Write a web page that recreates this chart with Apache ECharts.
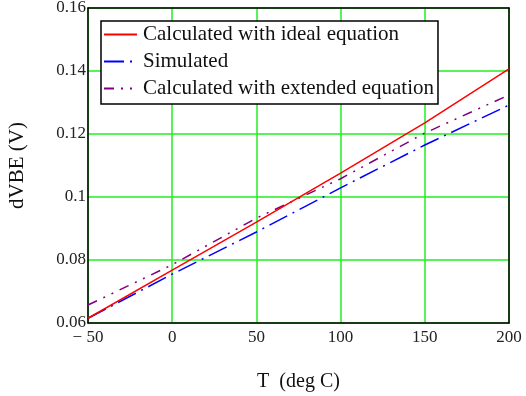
<!DOCTYPE html>
<html>
<head>
<meta charset="utf-8">
<script src="https://cdn.jsdelivr.net/npm/echarts@6/dist/echarts.min.js"></script>
<style>
  html, body { margin: 0; padding: 0; background: #fff; }
  #chart { width: 526px; height: 396px; }
</style>
</head>
<body>
<div id="chart"></div>
<script>
// Temperature sweep (deg C)
const temps = [-50, 0, 50, 100, 150, 200];
// dVBE (V) for each temperature
const idealCalc = [0.0615, 0.0768, 0.0920, 0.1076, 0.1235, 0.1407];
const simulated = [0.0615, 0.0755, 0.0889, 0.1029, 0.1165, 0.1292];
const extendedCalc = [0.0657, 0.0785, 0.0933, 0.1058, 0.1203, 0.1324];

const seriesNames = [
  'Calculated with ideal equation',
  'Simulated',
  'Calculated with extended equation'
];
const xTickLabels = { '-50': '\u2212 50', '0': '0', '50': '50', '100': '100', '150': '150', '200': '200' };
const yTickLabels = { '0.06': '0.06', '0.08': '0.08', '0.1': '0.1', '0.12': '0.12', '0.14': '0.14', '0.16': '0.16' };

const serif = 'Liberation Serif';
const pair = (xs, ys) => xs.map((x, i) => [x, ys[i]]);

const chart = echarts.init(document.getElementById('chart'), null, { renderer: 'canvas' });

const frameAxis = { show: true, onZero: false, lineStyle: { color: '#000', width: 1.5 } };

chart.setOption({
  animation: false,
  backgroundColor: '#fff',
  grid: { left: 88, right: 17, top: 8, bottom: 73, containLabel: false, outerBoundsMode: 'none' },
  legend: {
    orient: 'vertical',
    left: 101,
    top: 21,
    data: seriesNames,
    backgroundColor: '#fff',
    borderColor: '#000',
    borderWidth: 1.5,
    padding: [3, 4, 5, 2],
    itemGap: 6,
    itemWidth: 33,
    itemHeight: 22,
    itemStyle: { opacity: 0 },
    textStyle: { fontFamily: serif, fontSize: 21, color: '#111', padding: [0, 0, 0, 1] }
  },
  xAxis: [{
    type: 'value',
    min: -50, max: 200, interval: 50,
    name: 'T  (deg C)',
    nameLocation: 'middle',
    nameGap: 49,
    nameTextStyle: { fontFamily: serif, fontSize: 20, color: '#111' },
    axisLine: frameAxis,
    axisTick: { show: false },
    axisLabel: {
      fontFamily: serif, fontSize: 17, color: '#222', margin: 6,
      formatter: v => xTickLabels[String(v)] ?? String(v)
    },
    splitLine: { show: true, lineStyle: { color: '#22ee22', width: 1.5 } }
  }, {
    type: 'value', position: 'top',
    min: -50, max: 200, interval: 50,
    axisLine: frameAxis, axisTick: { show: false }, axisLabel: { show: false }, splitLine: { show: false }
  }],
  yAxis: [{
    type: 'value',
    min: 0.06, max: 0.16, interval: 0.02,
    name: 'dVBE (V)',
    nameLocation: 'middle',
    nameGap: 60,
    nameTextStyle: { fontFamily: serif, fontSize: 21, color: '#111' },
    axisLine: frameAxis,
    axisTick: { show: false },
    axisLabel: {
      fontFamily: serif, fontSize: 17, color: '#222', margin: 2,
      formatter: v => yTickLabels[String(+v.toFixed(2))] ?? String(v)
    },
    splitLine: { show: true, lineStyle: { color: '#22ee22', width: 1.5 } }
  }, {
    type: 'value', position: 'right',
    min: 0.06, max: 0.16, interval: 0.02,
    axisLine: frameAxis, axisTick: { show: false }, axisLabel: { show: false }, splitLine: { show: false }
  }],
  series: [{
    name: seriesNames[0],
    type: 'line',
    data: pair(temps, idealCalc),
    symbol: 'none',
    itemStyle: { color: '#ff0000' },
    lineStyle: { color: '#ff0000', width: 1.5 },
    z: 4
  }, {
    name: seriesNames[1],
    type: 'line',
    data: pair(temps, simulated),
    symbol: 'none',
    itemStyle: { color: '#0000ff' },
    lineStyle: { color: '#0000ff', width: 1.5, type: [20, 6, 2, 6] },
    z: 3
  }, {
    name: seriesNames[2],
    type: 'line',
    data: pair(temps, extendedCalc),
    symbol: 'none',
    itemStyle: { color: '#800080' },
    lineStyle: { color: '#800080', width: 1.5, type: [10, 7, 2, 7, 2, 7] },
    z: 3
  }]
});
</script>
</body>
</html>
